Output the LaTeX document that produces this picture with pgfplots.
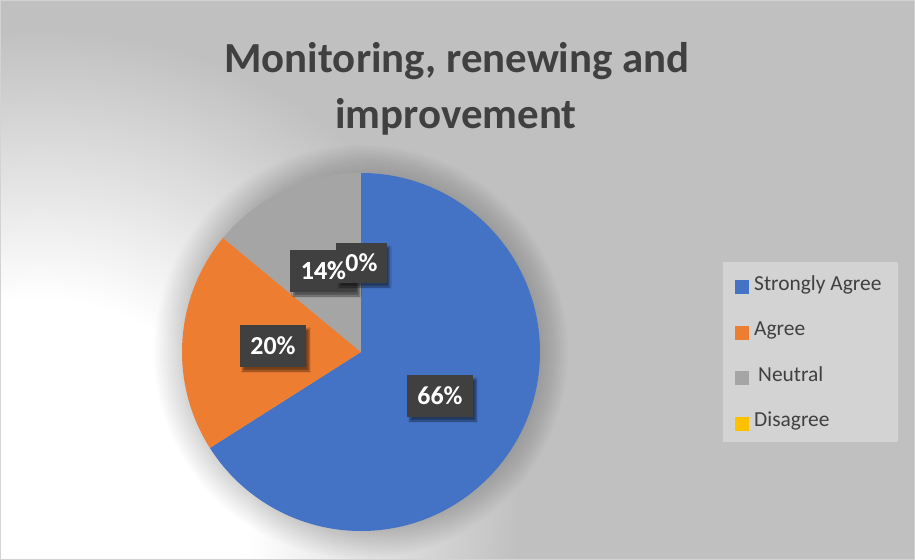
\documentclass[border=0pt]{standalone}
\usepackage{pgfplots}
\pgfplotsset{compat=1.18}
\usepackage{fontspec}
\setmainfont{Carlito}
\usetikzlibrary{shadows.blur}

\definecolor{sagree}{HTML}{4472C4}
\definecolor{agree}{HTML}{ED7D31}
\definecolor{neutral}{HTML}{A5A5A5}
\definecolor{disagree}{HTML}{FFC000}
\definecolor{bgray}{HTML}{C0C0C0}
\definecolor{leggray}{HTML}{D3D3D3}
\definecolor{txtgray}{HTML}{404040}

% the path's box maps to the middle 50bp square of the shading
\pgfdeclareradialshading{bgglow}{\pgfpoint{0bp}{0bp}}{%
  color(0bp)=(white); color(10.5bp)=(white); color(24bp)=(bgray); color(50bp)=(bgray)}

% start angle (deg), share (%), colour
\newcommand{\slice}[3]{%
  \fill[#3] (axis cs:361,208) -- ++(#1:179bp)
    arc[start angle=#1, delta angle={-3.6*#2}, radius=179bp] -- cycle;}

\tikzset{
  pielabel/.style={fill=txtgray, text=white,
    font=\fontsize{26}{30}\selectfont\bfseries,
    minimum height=42bp, inner xsep=10.5bp,
    blur shadow={shadow xshift=3bp, shadow yshift=-4bp, shadow opacity=50}},
  pietext/.style={text=white, font=\fontsize{26}{30}\selectfont\bfseries,
    minimum height=42bp, inner xsep=10.5bp}}

\begin{document}
\begin{tikzpicture}
\useasboundingbox (0,0) rectangle (915bp,560bp);
\begin{axis}[
  at={(0,0)}, anchor=south west,
  scale only axis, width=915bp, height=560bp,
  xmin=0, xmax=915, ymin=0, ymax=560,
  hide axis, clip=false,
  legend style={at={(axis cs:735,287)}, anchor=north west,
    draw=none, fill=none, inner sep=0pt, row sep=21.5bp, column sep=0bp,
    font=\fontsize{21.5}{25}\selectfont, text=txtgray,
    nodes={inner xsep=5bp, text height=15bp, text depth=5bp}},
  legend cell align=left,
  legend image code/.code={\fill[#1, draw=none] (0bp,-9bp) rectangle (14bp,5bp);},
]
  % background
  \fill[bgray] (axis cs:0,0) rectangle (axis cs:915,560);
  \shade[shading=bgglow] (axis cs:40,50) circle[radius=500bp];
  \draw[color=leggray, line width=1bp] (axis cs:0.5,0.5) rectangle (axis cs:914.5,559.5);

  % soft halo round the pie
  \pgfplotsinvokeforeach{1,...,14}{
    \fill[black, opacity=0.013] (axis cs:361,208) circle[radius={179bp+2bp*#1}];
  }

  % slices: 66, 20, 14, 0 (%)
  \slice{90}{66}{sagree}
  \slice{-147.6}{20}{agree}
  \slice{-219.6}{14}{neutral}

  % data labels
  \node[pielabel] at (axis cs:440,164) {66\%};
  \node[pielabel] at (axis cs:273,214) {20\%};
  \node[pielabel] at (axis cs:323.5,289) {14\%};
  \node[pielabel, minimum height=40bp, inner xsep=9bp] at (axis cs:361.5,297) {0\%};
  \node[pietext] at (axis cs:323.5,289) {14\%};

  % title
  \node[font=\fontsize{43}{50}\selectfont\bfseries, text=txtgray, anchor=base]
    at (axis cs:457,488) {Monitoring, renewing and};
  \node[font=\fontsize{43}{50}\selectfont\bfseries, text=txtgray, anchor=base]
    at (axis cs:456,432) {improvement};

  % legend box
  \fill[leggray] (axis cs:723,118) rectangle (axis cs:898,298);
  \addlegendimage{fill=sagree}\addlegendentry{Strongly Agree}
  \addlegendimage{fill=agree}\addlegendentry{Agree}
  \addlegendimage{fill=neutral}\addlegendentry{\hspace{4bp}Neutral}
  \addlegendimage{fill=disagree}\addlegendentry{Disagree}
\end{axis}
\end{tikzpicture}
\end{document}
